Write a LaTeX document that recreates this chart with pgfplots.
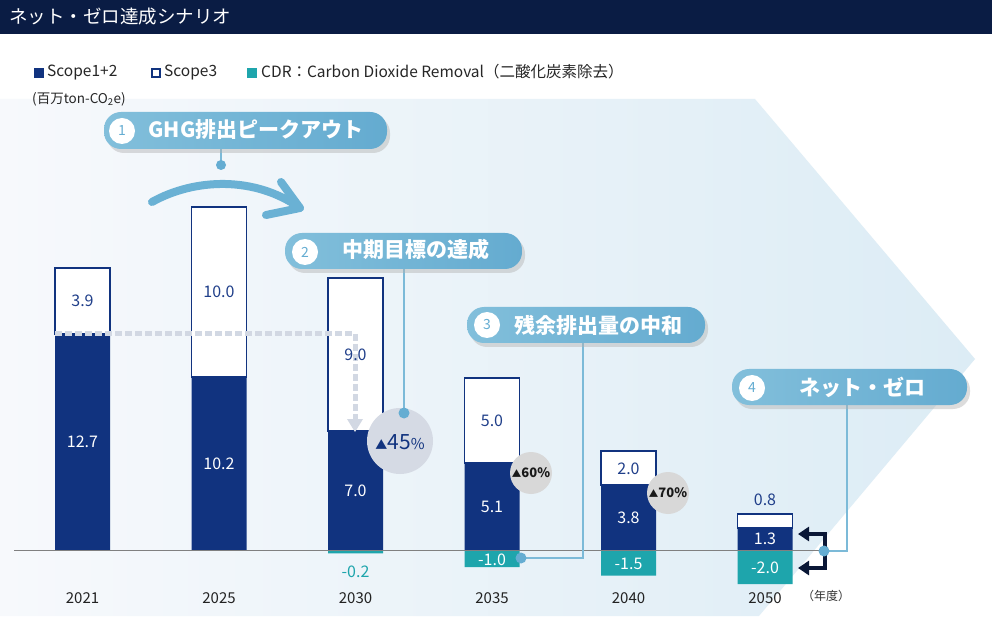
\documentclass[border=0pt]{standalone}
\usepackage{pgfplots}
\pgfplotsset{compat=1.18}
\usepackage{pgfplotstable}
\usepackage{fontspec}
\setmainfont{Noto Sans CJK JP}
\setsansfont{Noto Sans CJK JP}
\usetikzlibrary{arrows.meta}
\definecolor{navy}{HTML}{11337F}
\definecolor{tealc}{HTML}{1EA5AC}
\definecolor{lblnavy}{HTML}{203F8A}
\definecolor{titlebg}{HTML}{0A1C44}
\definecolor{pillL}{HTML}{82BFDB}
\definecolor{pillR}{HTML}{64ABD0}
\definecolor{conn}{HTML}{7CBAD8}
\definecolor{dotc}{HTML}{65ADD2}
\definecolor{arrowc}{HTML}{6AB1D4}
\definecolor{dashc}{HTML}{D2D8E3}
\definecolor{circA}{HTML}{D5DAE4}
\definecolor{circB}{HTML}{D8D8D8}
\definecolor{brack}{HTML}{0A1736}
\definecolor{bgL}{HTML}{F7F9FC}
\definecolor{bgR}{HTML}{DCECF5}
\definecolor{yearc}{HTML}{222222}

\pgfplotstableread{
x s12 s3 cdr
0 12.7 3.9 0
1 10.2 10.0 0
2 7.0 9.0 -0.2
3 5.1 5.0 -1.0
4 3.8 2.0 -1.5
5 1.3 0.8 -2.0
}\data

\pgfplotsset{base/.style={at={(0pt,0pt)},anchor=south west,width=992pt,height=616pt,
  scale only axis,xmin=-0.6044,xmax=6.663,ymin=-3.882,ymax=32.353,hide axis,clip=false}}

\newcommand{\pill}[4]{% x1 y1 x2 y2
  \fill[black!30,opacity=0.45,rounded corners=17pt] (#1+3,#2+4) rectangle (#3+3,#4+4);
  \shade[left color=pillL,right color=pillR,rounded corners=17pt] (#1,#2) rectangle (#3,#4);
}

\begin{document}
\begin{tikzpicture}
\useasboundingbox (0,0) rectangle (992pt,616pt);
\begin{scope}[shift={(0pt,616pt)},x=1pt,y=-1pt]
  \fill[white] (0,0) rectangle (992,616);
  \shade[left color=bgL,right color=bgR] (0,99) -- (755,99) -- (975,359) -- (759,616) -- (0,616) -- cycle;
  \fill[titlebg] (0,0) rectangle (992,34);
  \node[anchor=west,text=white,font=\fontsize{18.5}{20}\selectfont,inner sep=0] at (9,17) {ネット・ゼロ達成シナリオ};
  % legend
  \fill[navy] (34,68) rectangle (44,78);
  \node[anchor=west,inner sep=0,font=\fontsize{15.5}{17}\selectfont,text=black!85] at (47,72) {Scope1+2};
  \draw[navy,line width=1.8pt] (152,69) rectangle (160,77);
  \node[anchor=west,inner sep=0,font=\fontsize{15.5}{17}\selectfont,text=black!85] at (164,72) {Scope3};
  \fill[tealc] (247,68) rectangle (257,78);
  \node[anchor=west,inner sep=0,font=\fontsize{15.5}{17}\selectfont,text=black!85] at (261,72) {CDR：Carbon Dioxide Removal（二酸化炭素除去）};
  \node[anchor=west,inner sep=0,font=\fontsize{13.5}{15}\selectfont,text=black!85] at (32,99) {(百万ton-CO\textsubscript{2}e)};
\end{scope}

% Scope1+2 and Scope3 stacked bars
\begin{axis}[base,ybar stacked,bar width=55pt]
  \addplot[fill=navy,draw=none] table[x=x,y=s12]{\data};
  \addplot[fill=white,draw=navy,line width=1.9pt] table[x=x,y=s3]{\data};
\end{axis}
% CDR bars
\begin{axis}[base,ybar,bar width=55pt,bar shift=0pt]
  \addplot[fill=tealc,draw=none] table[x=x,y=cdr]{\data};
\end{axis}

\begin{scope}[shift={(0pt,616pt)},x=1pt,y=-1pt]
  % baseline
  \draw[black!50,line width=1pt] (14,550) -- (832,550);
  % dashed reference line
  \draw[dashc,line width=5pt,dash pattern=on 7pt off 3pt] (55,334) -- (355,334) -- (355,419);
  \fill[dashc] (347,419) -- (363,419) -- (355,432) -- cycle;
  % curved arrow
  \draw[arrowc,line width=8pt,line cap=round,line join=round] (152,202) .. controls (195,178) and (255,176) .. (300,208);
  \draw[arrowc,line width=8pt,line cap=round,line join=round] (281,182) -- (300,208) -- (266,215);
  % connectors
  \draw[conn,line width=1.2pt] (221,148) -- (221,165);
  \fill[dotc] (221,165) circle (5);
  \draw[conn,line width=1.2pt] (404,268) -- (404,413);
  \draw[conn,line width=1.2pt] (583,343) -- (583,558) -- (521,558);
  \draw[conn,line width=1.2pt] (824,551) -- (847,551) -- (847,405);
  % bubbles
  \fill[circA] (400,441) circle (33);
  \fill[dotc] (404,413) circle (5.5);
  \node[text=navy,inner sep=0] at (400,442) {{\fontsize{12}{12}\selectfont ▲}{\fontsize{21}{21}\selectfont 45}{\fontsize{15}{15}\selectfont\%}};
  \fill[circB] (531,473) circle (21);
  \node[text=black!90,inner sep=0,font=\bfseries] at (531,473) {{\fontsize{9.5}{10}\selectfont ▲}{\fontsize{13}{13}\selectfont 60\%}};
  \fill[circB] (668,493) circle (21);
  \node[text=black!90,inner sep=0,font=\bfseries] at (668,493) {{\fontsize{9.5}{10}\selectfont ▲}{\fontsize{13}{13}\selectfont 70\%}};
  \fill[dotc] (521,558) circle (5.5);
  % bracket arrows
  \draw[brack,line width=4pt,{Triangle[length=11pt,width=14pt]}-{Triangle[length=11pt,width=14pt]}] (798,534) -- (825,534) -- (825,568) -- (798,568);
  \fill[dotc] (824,551) circle (5.5);
  % pills
  \pill{104}{112}{387}{149}
  \fill[white] (122,131) circle (13);
  \node[text=dotc,font=\fontsize{14}{14}\selectfont] at (122,131) {1};
  \node[text=white,font=\fontsize{21}{22}\selectfont\bfseries] at (256,130) {GHG排出ピークアウト};
  \pill{285}{233}{522}{269}
  \fill[white] (305,252) circle (13);
  \node[text=dotc,font=\fontsize{14}{14}\selectfont] at (305,252) {2};
  \node[text=white,font=\fontsize{21}{22}\selectfont\bfseries] at (416,250) {中期目標の達成};
  \pill{467}{307}{705}{343}
  \fill[white] (487,325) circle (13);
  \node[text=dotc,font=\fontsize{14}{14}\selectfont] at (487,325) {3};
  \node[text=white,font=\fontsize{21}{22}\selectfont\bfseries] at (598,325) {残余排出量の中和};
  \pill{732}{369}{967}{405}
  \fill[white] (752,388) circle (13);
  \node[text=dotc,font=\fontsize{14}{14}\selectfont] at (752,388) {4};
  \node[text=white,font=\fontsize{21}{22}\selectfont\bfseries] at (862,387) {ネット・ゼロ};
  \node[text=black!80,font=\fontsize{12}{13}\selectfont] at (826,596) {（年度）};
\end{scope}

% value labels
\begin{axis}[base,point meta=explicit symbolic]
  \addplot[draw=none,mark=none,nodes near coords,
    nodes near coords style={anchor=center,text=white,font=\fontsize{16}{16}\selectfont}]
    table[x=x,y expr=\thisrow{s12}/2,meta=s12]{\data};
  \addplot[draw=none,mark=none,nodes near coords,skip coords between index={5}{6},
    nodes near coords style={anchor=center,text=lblnavy,font=\fontsize{16}{16}\selectfont}]
    table[x=x,y expr=\thisrow{s12}+\thisrow{s3}/2,meta=s3]{\data};
  \addplot[draw=none,mark=none,nodes near coords,
    nodes near coords style={anchor=center,text=lblnavy,font=\fontsize{16}{16}\selectfont}]
    coordinates {(5,2.95)[0.8]};
  \addplot[draw=none,mark=none,nodes near coords,skip coords between index={0}{3},
    nodes near coords style={anchor=center,text=white,font=\fontsize{16}{16}\selectfont}]
    table[x=x,y expr=\thisrow{cdr}/2-0.05,meta=cdr]{\data};
  \addplot[draw=none,mark=none,nodes near coords,
    nodes near coords style={anchor=center,text=tealc,font=\fontsize{16}{16}\selectfont}]
    coordinates {(2,-1.3)[-0.2]};
  \addplot[draw=none,mark=none,nodes near coords,
    nodes near coords style={anchor=center,text=yearc,font=\fontsize{15}{15}\selectfont}]
    coordinates {(0,-2.82)[2021] (1,-2.82)[2025] (2,-2.82)[2030] (3,-2.82)[2035] (4,-2.82)[2040] (5,-2.82)[2050]};
\end{axis}
\end{tikzpicture}
\end{document}
